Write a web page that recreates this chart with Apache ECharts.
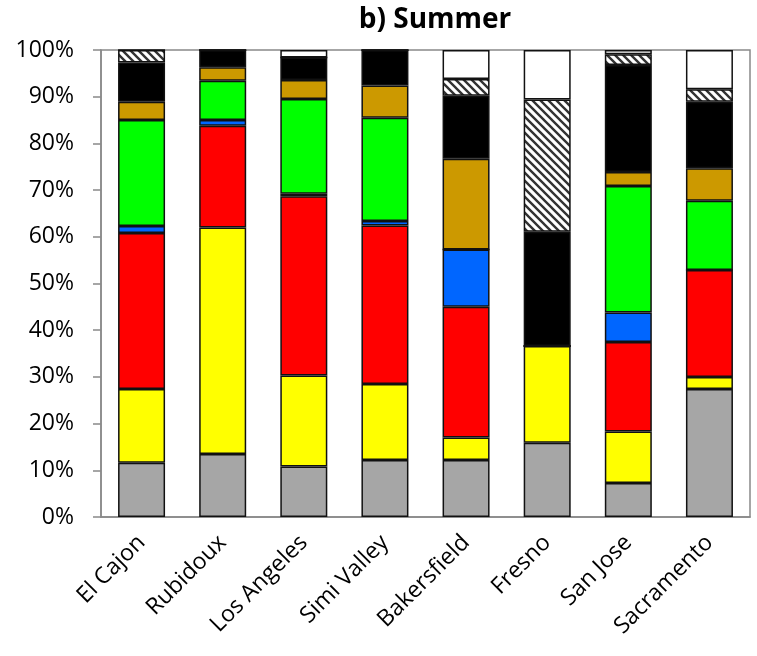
<!DOCTYPE html>
<html>
<head>
<meta charset="utf-8">
<script src="https://cdn.jsdelivr.net/npm/echarts@6/dist/echarts.min.js"></script>
<style>
  html, body { margin: 0; padding: 0; background: #fff; }
  #chart { width: 757px; height: 656px; }
</style>
</head>
<body>
<div id="chart"></div>
<script>
// sites and stacked fractions (%), bottom to top
var sites = ['El Cajon', 'Rubidoux', 'Los Angeles', 'Simi Valley', 'Bakersfield', 'Fresno', 'San Jose', 'Sacramento'];
var grayVals   = [11.6, 13.5, 10.8, 12.2, 12.2, 15.9, 7.3, 27.4];
var yellowVals = [15.8, 48.5, 19.5, 16.3, 4.8, 20.7, 11.0, 2.6];
var redVals    = [33.4, 21.8, 38.4, 33.9, 28.0, 0, 19.2, 22.9];
var blueVals   = [1.5, 1.2, 0.5, 1.0, 12.3, 0, 6.3, 0];
var greenVals  = [22.7, 8.4, 20.3, 22.1, 0, 0, 27.1, 14.8];
var goldVals   = [3.9, 2.9, 4.1, 6.9, 19.4, 0, 3.0, 7.0];
var blackVals  = [8.4, 3.7, 4.8, 7.6, 13.5, 24.5, 22.9, 14.2];
var hatchVals  = [2.7, 0, 0, 0, 3.6, 28.3, 2.3, 2.7];
var whiteVals  = [0, 0, 1.6, 0, 6.2, 10.6, 0.9, 8.4];

// diagonal hatch fill
function hatch() {
  var c = document.createElement('canvas');
  c.width = 8; c.height = 8;
  var g = c.getContext('2d');
  g.fillStyle = '#fff';
  g.fillRect(0, 0, 8, 8);
  g.strokeStyle = '#333';
  g.lineWidth = 2.4;
  g.beginPath();
  g.moveTo(-2, -2); g.lineTo(10, 10);
  g.moveTo(-6, 2); g.lineTo(2, 10);
  g.moveTo(6, -2); g.lineTo(10, 2);
  g.stroke();
  return { image: c, repeat: 'repeat' };
}

var layers = [
  { name: 'gray', data: grayVals, color: '#a6a6a6' },
  { name: 'yellow', data: yellowVals, color: '#ffff00' },
  { name: 'red', data: redVals, color: '#ff0000' },
  { name: 'blue', data: blueVals, color: '#0066ff' },
  { name: 'green', data: greenVals, color: '#00ff00' },
  { name: 'gold', data: goldVals, color: '#cc9900' },
  { name: 'black', data: blackVals, color: '#000000' },
  { name: 'hatched', data: hatchVals, color: hatch() },
  { name: 'white', data: whiteVals, color: '#ffffff' }
];

var font = '"Open Sans", sans-serif';
var chart = echarts.init(document.getElementById('chart'), null, { renderer: 'canvas' });

chart.setOption({
  animation: false,
  title: {
    text: 'b) Summer',
    left: 430,
    top: 1,
    textAlign: 'center',
    textStyle: { fontFamily: font, fontWeight: 'bold', fontSize: 28, color: '#000' }
  },
  grid: {
    left: 101, right: 7, top: 50, bottom: 139,
    show: true, borderColor: '#898989', borderWidth: 1.5
  },
  xAxis: {
    type: 'category',
    data: sites,
    axisLine: { lineStyle: { color: '#898989', width: 1.5 } },
    axisTick: { length: 8, lineStyle: { color: '#898989', width: 1.5 } },
    axisLabel: { rotate: 45, margin: 22, fontFamily: font, fontSize: 23, color: '#000' }
  },
  yAxis: {
    type: 'value',
    min: 0, max: 100, interval: 10,
    axisLine: { show: true, lineStyle: { color: '#898989', width: 1.5 } },
    axisTick: { show: true, length: 8, lineStyle: { color: '#898989', width: 1.5 } },
    splitLine: { show: false },
    axisLabel: { formatter: '{value}%', margin: 27, fontFamily: font, fontSize: 23, color: '#000' }
  },
  series: layers.map(function (l) {
    return {
      name: l.name,
      type: 'bar',
      stack: 'total',
      barWidth: 47,
      data: l.data,
      itemStyle: { color: l.color, borderColor: '#111', borderWidth: 1.5 }
    };
  })
});
</script>
</body>
</html>
